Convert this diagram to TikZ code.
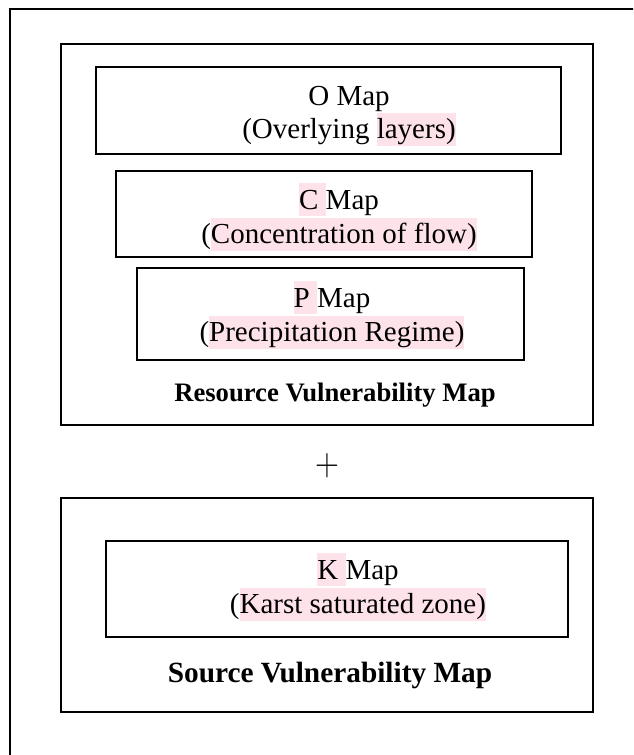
\documentclass[tikz,border=0pt]{standalone}
\usepackage{fontspec}
\setmainfont{Liberation Serif}
\usepackage{tikz}

\definecolor{hlpink}{RGB}{253,226,234}
\newcommand{\pxl}{0.75pt}
\newcommand{\hlmark}[1]{{\setlength{\fboxsep}{0pt}\colorbox{hlpink}{\rule[-0.24em]{0pt}{1.14em}#1}}}

\begin{document}
\begin{tikzpicture}[
    x=\pxl, y=-\pxl,
    frame/.style={draw, line width=1.9pt},
    mapbox/.style={
        rectangle,
        draw,
        line width=1.5pt,
        inner sep=0pt
    },
    maptext/.style={align=center, font=\fontsize{21.75}{24.75}\selectfont},
    title/.style={anchor=base, font=\fontsize{20}{24}\selectfont\bfseries}
]

\useasboundingbox (0,0) rectangle (633,755);
\begin{scope}
\clip (0,0) rectangle (633,755);
\draw[frame] (10,9) rectangle (700,800);
\end{scope}

% resource vulnerability
\node[mapbox, line width=1.9pt, minimum width=532*\pxl, minimum height=381*\pxl] (resource) at (327,234.5) {};
\node[mapbox, minimum width=465*\pxl, minimum height=87*\pxl] (omap) at (328.5,110.5) {};
\node[mapbox, minimum width=416*\pxl, minimum height=86*\pxl] (cmap) at (324,214) {};
\node[mapbox, minimum width=387*\pxl, minimum height=92*\pxl] (pmap) at (330.5,314) {};

\node[maptext] (otext) at (349,116) {O Map\\(Overlying \hlmark{layers)}};
\node[maptext] (ctext) at (339,217) {\hlmark{C\ }Map\\(\hlmark{Concentration of flow)}};
\node[maptext] (ptext) at (332,315) {\hlmark{P\ }Map\\(\hlmark{Precipitation Regime)}};
\node[title] (restitle) at (335,401) {Resource Vulnerability Map};

\node (plus) at (327,466) {\scalebox{1}[1.18]{\fontsize{24.75}{26}\selectfont$+$}};

% source vulnerability
\node[mapbox, line width=1.9pt, minimum width=532*\pxl, minimum height=214*\pxl] (source) at (327,605) {};
\node[mapbox, minimum width=462*\pxl, minimum height=96*\pxl] (kmap) at (337,589) {};

\node[maptext] (ktext) at (358,587) {\hlmark{K\ }Map\\(\hlmark{Karst saturated zone)}};
\node[title, font=\fontsize{22}{26}\selectfont\bfseries] (srctitle) at (330,682) {Source Vulnerability Map};

\end{tikzpicture}
\end{document}
